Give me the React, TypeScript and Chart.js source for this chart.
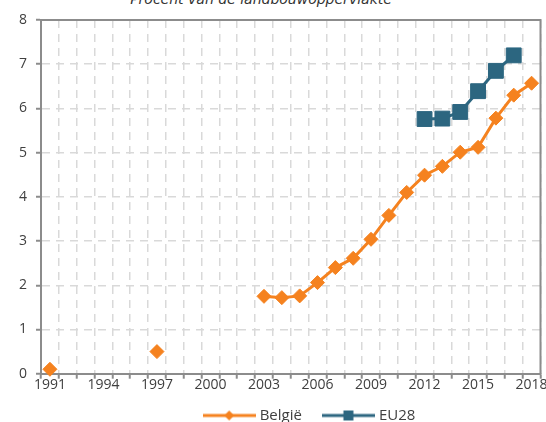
import React, { useEffect, useRef } from "react";
import { Chart, registerables } from "chart.js";

Chart.register(...registerables);

const categories = [
  "1991", "1992", "1993", "1994", "1995", "1996", "1997", "1998", "1999", "2000",
  "2001", "2002", "2003", "2004", "2005", "2006", "2007", "2008", "2009", "2010",
  "2011", "2012", "2013", "2014", "2015", "2016", "2017", "2018",
];
const tickLabels = ["1991", "1994", "1997", "2000", "2003", "2006", "2009", "2012", "2015", "2018"];
const belgie = [
  0.1, null, null, null, null, null, 0.5, null, null, null,
  null, null, 1.75, 1.72, 1.76, 2.06, 2.4, 2.61, 3.04, 3.58,
  4.1, 4.49, 4.69, 5.01, 5.12, 5.78, 6.3, 6.57,
];
const eu28 = [
  null, null, null, null, null, null, null, null, null, null,
  null, null, null, null, null, null, null, null, null, null,
  null, 5.76, 5.77, 5.92, 6.39, 6.85, 7.2, null,
];
const seriesNames = ["België", "EU28"];
const titleText = "Procent van de landbouwoppervlakte";
const yMin = 0;
const yMax = 8;

const ORANGE = "#F5821F";
const TEAL = "#2C6680";
const AXIS = "#8c8c8c";
const GRID = "#d9d9d9";
const TEXT = "#404040";
const FONT = "'Open Sans', sans-serif";
const LEGEND_DX = 20;
const LEGEND_DY = -7;

function legendIcon(color: string, shape: "diamond" | "square") {
  const c = document.createElement("canvas");
  c.width = 53;
  c.height = 12;
  const ctx = c.getContext("2d")!;
  ctx.strokeStyle = color;
  ctx.lineWidth = 3;
  ctx.beginPath();
  ctx.moveTo(0, 6);
  ctx.lineTo(53, 6);
  ctx.stroke();
  ctx.fillStyle = color;
  if (shape === "diamond") {
    ctx.beginPath();
    ctx.moveTo(26.5, 1);
    ctx.lineTo(31.5, 6);
    ctx.lineTo(26.5, 11);
    ctx.lineTo(21.5, 6);
    ctx.closePath();
    ctx.fill();
  } else {
    ctx.fillRect(21.5, 1, 10, 10);
  }
  return c;
}

const framePlugin = {
  id: "frame",
  beforeDatasetsDraw(chart: any) {
    const { ctx, chartArea: a } = chart;
    ctx.save();
    ctx.strokeStyle = AXIS;
    ctx.lineWidth = 2;
    ctx.beginPath();
    ctx.moveTo(a.left, a.top);
    ctx.lineTo(a.right, a.top);
    ctx.lineTo(a.right, a.bottom);
    ctx.stroke();
    ctx.restore();
  },
};

const legendShiftPlugin = {
  id: "legendShift",
  afterLayout(chart: any) {
    const lg = chart.legend;
    if (lg) {
      lg.left += LEGEND_DX;
      lg.right += LEGEND_DX;
      lg.top += LEGEND_DY;
      lg.bottom += LEGEND_DY;
    }
  },
};

export default function App() {
  const ref = useRef<HTMLCanvasElement>(null);

  useEffect(() => {
    const icons = [legendIcon(ORANGE, "diamond"), legendIcon(TEAL, "square")];
    const chart = new Chart(ref.current!, {
      type: "line",
      data: {
        labels: categories,
        datasets: [
          {
            label: seriesNames[0],
            data: belgie,
            borderColor: ORANGE,
            backgroundColor: ORANGE,
            borderWidth: 3,
            pointStyle: "rectRot",
            pointRadius: 7,
            pointBorderWidth: 1,
            pointBackgroundColor: ORANGE,
            pointBorderColor: ORANGE,
            spanGaps: false,
            clip: false,
          },
          {
            label: seriesNames[1],
            data: eu28,
            borderColor: TEAL,
            backgroundColor: TEAL,
            borderWidth: 3,
            pointStyle: "rect",
            pointRadius: 10.5,
            pointBorderWidth: 1,
            pointBackgroundColor: TEAL,
            pointBorderColor: TEAL,
            spanGaps: false,
            clip: false,
          },
        ],
      },
      options: {
        responsive: false,
        animation: false,
        events: [],
        layout: { padding: { left: 10, top: 20, right: 0, bottom: 0 } },
        plugins: {
          title: { display: false },
          tooltip: { enabled: false },
          legend: {
            position: "bottom",
            fullSize: false,
            align: "center",
            labels: {
              usePointStyle: true,
              pointStyleWidth: 46,
              padding: 23.5,
              color: TEXT,
              font: { family: FONT, size: 15 },
              generateLabels: (c: any) =>
                c.data.datasets.map((ds: any, i: number) => ({
                  text: ds.label,
                  pointStyle: icons[i],
                  fillStyle: "transparent",
                  strokeStyle: "transparent",
                  lineWidth: 0,
                  hidden: false,
                  datasetIndex: i,
                  fontColor: TEXT,
                })),
            },
          },
        },
        scales: {
          x: {
            type: "category",
            offset: true,
            grid: {
              offset: true,
              color: GRID,
              lineWidth: 1.5,
              tickLength: 5,
              tickColor: AXIS,
              tickWidth: 2,
              tickBorderDash: [],
            },
            border: { display: true, color: AXIS, width: 2, dash: [8, 6] },
            ticks: {
              autoSkip: false,
              maxRotation: 0,
              padding: -2,
              color: TEXT,
              font: { family: FONT, size: 14 },
              callback: (_v: any, i: number) =>
                tickLabels.includes(categories[i]) ? categories[i] : "",
            },
          },
          y: {
            min: yMin,
            max: yMax,
            grid: {
              color: GRID,
              lineWidth: 1.5,
              tickLength: 5,
              tickColor: AXIS,
              tickWidth: 2,
              tickBorderDash: [],
            },
            border: { display: true, color: AXIS, width: 2, dash: [8, 6] },
            ticks: {
              stepSize: 1,
              padding: 9,
              color: TEXT,
              font: { family: FONT, size: 14 },
            },
          },
        },
      },
      plugins: [framePlugin, legendShiftPlugin],
    } as any);
    return () => chart.destroy();
  }, []);

  return (
    <div
      style={{
        position: "fixed",
        left: 0,
        top: 0,
        width: 546,
        height: 422,
        overflow: "hidden",
        background: "#fff",
      }}
    >
      <div
        style={{
          position: "absolute",
          left: 0,
          top: -8,
          width: 522,
          textAlign: "center",
          font: "italic 14px 'DejaVu Sans', sans-serif",
          lineHeight: "15px",
          color: "#333",
          whiteSpace: "nowrap",
        }}
      >
        {titleText}
      </div>
      <canvas
        ref={ref}
        width={552}
        height={440}
        style={{ position: "absolute", left: 0, top: 0, width: 552, height: 440 }}
      />
    </div>
  );
}
